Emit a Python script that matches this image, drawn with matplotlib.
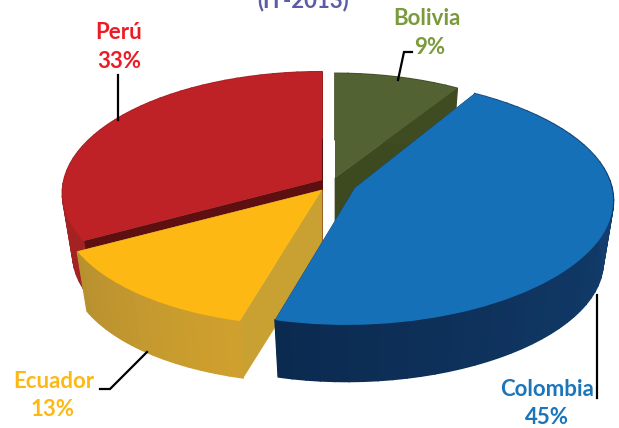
import numpy as np
import matplotlib
matplotlib.use("Agg")
import matplotlib.pyplot as plt
from matplotlib.transforms import Transform
from matplotlib.colors import to_rgb

categories = ["Bolivia", "Colombia", "Ecuador", "Perú"]
values = [9, 45, 13, 33]
top_colors = ["#536233", "#1570b8", "#fdb813", "#be2126"]
wall_from = ["#3f4c22", "#0b2a50", "#b8912f", "#a52222"]   # at lower theta
wall_to = ["#3f4c22", "#17497f", "#d0a02e", "#a52222"]     # at higher theta
cut_colors = ["#3d4a20", "#17497f", "#c9a032", "#5e1010"]
label_colors = ["#7a9a3c", "#1b75bb", "#fdb913", "#ed1c24"]
label_xy = [(427, 18, 430, 47), (547, 390, 547, 418), (54, 381, 53, 410), (119, 32, 119, 61)]
# per-slice projection: centre x, centre y, rx, ry, lens warp
slice_geom = [(335, 178, 249, 116, 0), (355, 188, 257, 122, 9), (322, 190, 262, 121, 10), (322, 180, 258, 120, 0)]
draw_rank = [0, 3, 2, 1]   # back to front: Bolivia, Perú, Ecuador, Colombia
K = 0.109
DEPTH = 62
BOTTOM_SCALE = 0.96
leaders = [([412, 404, 398], [52, 52, 80]), ([597, 597], [295, 398]),
           ([100, 110, 147], [389, 389, 352]), ([118, 118], [75, 120])]


def project(u, v, geom, bottom=False):
    cx, cy, rx, ry, q = geom
    w = 1 + K * v
    x, y = rx * u / w - q * v ** 2, -ry * v / w
    if bottom:
        return cx + BOTTOM_SCALE * x, cy + DEPTH + BOTTOM_SCALE * y
    return cx + x, cy + y


class Tilt(Transform):
    input_dims = 2
    output_dims = 2
    is_separable = False
    has_inverse = False

    def __init__(self, geom):
        super().__init__()
        self.geom = geom

    def transform_non_affine(self, values):
        values = np.asarray(values, dtype=float)
        x, y = project(values[:, 0], values[:, 1], self.geom)
        return np.column_stack([x, y])


plt.rcParams["font.family"] = ["Lato", "DejaVu Sans"]
fig = plt.figure(figsize=(6.19, 4.28), dpi=100)
ax = fig.add_axes([0, 0, 1, 1])
wedges, _ = ax.pie(values, startangle=90, counterclock=False, colors=top_colors, radius=1)
ax.set_aspect("auto")
ax.set_xlim(0, 619)
ax.set_ylim(428, 0)
ax.axis("off")

for i, wedge in enumerate(wedges):
    geom = slice_geom[i]
    base = 1 + 3 * draw_rank[i]
    wedge.set_transform(Tilt(geom) + ax.transData)
    wedge.set_zorder(base + 2)
    wedge.set_linewidth(0)
    t1, t2 = wedge.theta1, wedge.theta2

    # flat cut faces
    for ang in (t1, t2):
        a = np.radians(ang)
        u, v = np.cos(a), np.sin(a)
        p1 = project(np.array([0.0, u]), np.array([0.0, v]), geom)
        p2 = project(np.array([u, 0.0]), np.array([v, 0.0]), geom, bottom=True)
        ax.fill(np.r_[p1[0], p2[0]], np.r_[p1[1], p2[1]], color=cut_colors[i], lw=0.5, zorder=base)

    # curved outer wall, shaded along the arc
    th = np.radians(np.linspace(t1, t2, max(int((t2 - t1) / 3), 2) + 1))
    c0, c1 = np.array(to_rgb(wall_from[i])), np.array(to_rgb(wall_to[i]))
    for j in range(len(th) - 1):
        seg = np.linspace(th[j], th[j + 1], 5)
        u, v = np.cos(seg), np.sin(seg)
        xa, ya = project(u, v, geom)
        xb, yb = project(u[::-1], v[::-1], geom, bottom=True)
        col = c0 + (c1 - c0) * j / max(len(th) - 2, 1)
        ax.fill(np.r_[xa, xb], np.r_[ya, yb], facecolor=col, edgecolor=col, lw=1.2, zorder=base + 1)

for xs, ys in leaders:
    ax.plot(xs, ys, color="black", lw=1.6, solid_joinstyle="miter", zorder=20)

for name, val, col, (x1, y1, x2, y2) in zip(categories, values, label_colors, label_xy):
    ax.text(x1, y1, name, color=col, fontsize=16, fontweight="bold", ha="center", va="center", zorder=21)
    ax.text(x2, y2, f"{val}%", color=col, fontsize=16, fontweight="bold", ha="center", va="center", zorder=21)

ax.text(303, 1, "(IT-2013)", color="#5b5ba8", fontsize=16, fontweight="bold", ha="center", va="center", clip_on=False)

fig.savefig("out.png", dpi=100)
